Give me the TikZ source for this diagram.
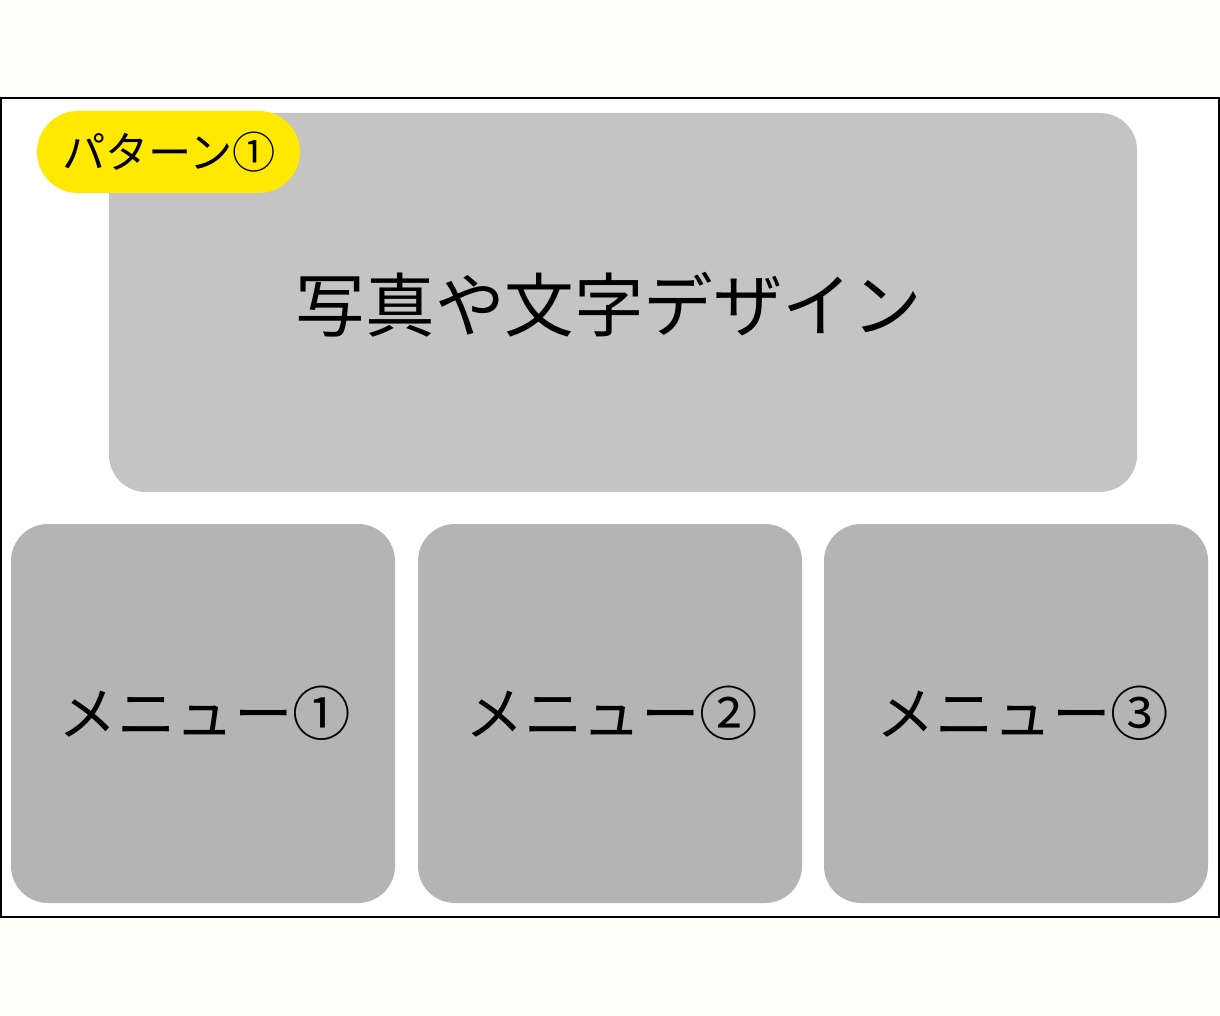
\documentclass[tikz,border=0pt]{standalone}
\usepackage{fontspec}
\setmainfont{Noto Sans CJK JP}
\definecolor{sfondo}{HTML}{FFFEF9}
\definecolor{grigioA}{HTML}{C4C4C4}
\definecolor{grigioB}{HTML}{B4B4B4}
\definecolor{giallo}{HTML}{FFE900}
\tikzset{
  menubox/.style={fill=grigioB, draw=none, rounded corners=0.74cm},
  menutesto/.style={font=\fontsize{33.3}{38}\selectfont, inner sep=0pt}
}
\begin{document}
\begin{tikzpicture}[x=0.02cm,y=-0.02cm]
        % Sfondo e cornice
        \fill[sfondo] (0,0) rectangle (1220,1016);
        \draw[black, fill=white, line width=1.1pt] (1,98) rectangle (1219,917);

        % Riquadro grande in alto
        \fill[grigioA, rounded corners=0.74cm] (109,113) rectangle (1137,492);
        \node[font=\fontsize{39.6}{44}\selectfont, inner sep=0pt] (foto) at(609,305){写真や文字デザイン};

        % Etichetta gialla
        \fill[giallo, rounded corners=0.82cm] (37,111) rectangle (300,193);
        \node[font=\fontsize{24.6}{28}\selectfont, inner sep=0pt] (pattern) at(169,152){パターン①};

        % Tre riquadri in basso
        \fill[menubox] (11,524) rectangle (395,903);
        \node[menutesto] (menuA) at(205,713){メニュー①};
        \fill[menubox] (418,524) rectangle (802,903);
        \node[menutesto] (menuB) at(612,713){メニュー②};
        \fill[menubox] (824,524) rectangle (1208,903);
        \node[menutesto] (menuC) at(1023,713){メニュー③};
      \end{tikzpicture}
\end{document}
